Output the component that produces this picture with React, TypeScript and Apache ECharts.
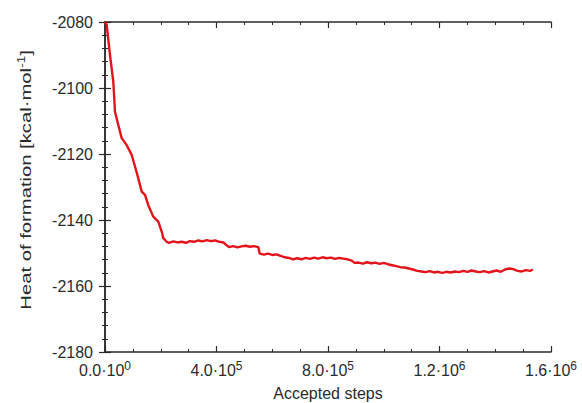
import React, { useEffect, useRef } from "react";
import * as echarts from "echarts";

// Accepted steps (x) and heat of formation in kcal/mol (y)
const steps: number[] = [
  0, 6100, 17900, 29800, 35900, 47700, 59900, 77800, 95800, 107600, 119500, 131700,
  143500, 155300, 173300, 191200, 203400, 209100, 221300, 230000, 245000, 260000,
  275000, 290000, 305000, 320000, 335000, 350000, 365000, 380000, 395000, 410000,
  425000, 435000, 445000, 460000, 475000, 490000, 505000, 520000, 535000, 550000,
  555000, 570000, 585000, 600000, 615000, 630000, 645000, 660000, 675000, 690000,
  705000, 720000, 735000, 750000, 765000, 780000, 795000, 810000, 825000, 840000,
  855000, 870000, 885000, 895000, 910000, 925000, 940000, 955000, 970000, 985000,
  1000000, 1015000, 1030000, 1045000, 1060000, 1075000, 1090000, 1105000, 1120000,
  1135000, 1150000, 1165000, 1180000, 1195000, 1210000, 1225000, 1240000, 1255000,
  1270000, 1285000, 1300000, 1315000, 1330000, 1345000, 1360000, 1375000, 1390000,
  1405000, 1420000, 1435000, 1450000, 1465000, 1480000, 1495000, 1510000, 1525000,
  1535000,
];
const heat: number[] = [
  -2080.0, -2080.9, -2090.0, -2098.1, -2107.2, -2111.2, -2115.2, -2117.3, -2120.3,
  -2123.8, -2127.4, -2131.4, -2132.4, -2135.5, -2139.0, -2140.5, -2143.5, -2145.5,
  -2146.6, -2146.9, -2146.5, -2146.8, -2146.6, -2146.9, -2146.4, -2146.6, -2146.2,
  -2146.5, -2146.1, -2146.4, -2146.2, -2146.6, -2146.8, -2147.6, -2148.2, -2147.9,
  -2148.3, -2148.0, -2147.8, -2148.1, -2147.9, -2148.2, -2150.2, -2150.5, -2150.2,
  -2150.6, -2150.4, -2150.9, -2151.3, -2151.5, -2151.9, -2151.6, -2151.9, -2151.5,
  -2151.8, -2151.4, -2151.7, -2151.3, -2151.6, -2151.4, -2151.8, -2151.5, -2151.7,
  -2151.9, -2152.3, -2153.0, -2152.9, -2153.2, -2152.8, -2153.1, -2152.9, -2153.3,
  -2153.0, -2153.4, -2153.7, -2154.0, -2154.3, -2154.4, -2154.7, -2155.0, -2155.4,
  -2155.6, -2155.8, -2155.5, -2155.9, -2155.7, -2156.0, -2155.7, -2155.9, -2155.6,
  -2155.8, -2155.4, -2155.7, -2155.3, -2155.6, -2155.8, -2155.5, -2155.9, -2155.6,
  -2155.3, -2155.7, -2155.0, -2154.7, -2154.9, -2155.4, -2155.6, -2155.2, -2155.4,
  -2155.0,
];

// Axis settings
const xMin = 0;
const xMax = 1600000;
const xInterval = 400000;
const yMin = -2180;
const yMax = -2080;
const yInterval = 20;
const xTitle = "Accepted steps";
const yTitleMain = "Heat of formation [kcal·mol";
const yTitleSup = "-1";

const FONT = "'Liberation Sans', Arial, Helvetica, sans-serif";
const AXIS_COLOR = "#2a2a2a";
const TEXT_COLOR = "#2b2b2b";

function sciLabel(v: number): string {
  const exp = v === 0 ? 0 : Math.floor(Math.log10(Math.abs(v)) + 1e-9);
  const mant = v / Math.pow(10, exp);
  return `${mant.toFixed(1)}·10{sup|${exp}}`;
}

export default function App() {
  const ref = useRef<HTMLDivElement>(null);

  useEffect(() => {
    if (!ref.current) return;
    const chart = echarts.init(ref.current, undefined, { renderer: "svg" });
    const data = steps.map((s, i) => [s, heat[i]]);

    const axisLine = { show: true, lineStyle: { color: AXIS_COLOR, width: 1.5 } };
    const axisTick = { show: true, inside: true, length: 6, lineStyle: { color: AXIS_COLOR, width: 1.2 } };
    const minorTickX = { show: true, splitNumber: 4, length: 3, lineStyle: { color: AXIS_COLOR, width: 1 } };
    const minorTickY = { show: true, splitNumber: 5, length: 3, lineStyle: { color: AXIS_COLOR, width: 1 } };

    chart.setOption({
      animation: false,
      backgroundColor: "#ffffff",
      grid: { left: 105, right: 31, top: 22, bottom: 51, containLabel: false, outerBoundsMode: "none" },
      xAxis: [
        {
          type: "value",
          position: "bottom",
          min: xMin,
          max: xMax,
          interval: xInterval,
          axisLine,
          axisTick,
          minorTick: minorTickX,
          splitLine: { show: false },
          name: xTitle,
          nameLocation: "middle",
          nameGap: 33,
          nameTextStyle: { fontFamily: FONT, fontSize: 16, color: TEXT_COLOR },
          axisLabel: {
            show: true,
            margin: 8,
            fontFamily: FONT,
            fontSize: 16,
            color: TEXT_COLOR,
            showMaxLabel: true,
            showMinLabel: true,
            formatter: (v: number) => sciLabel(v),
            rich: {
              sup: { fontFamily: FONT, fontSize: 12, color: TEXT_COLOR, verticalAlign: "top", padding: [0, 0, 9, 0] },
            },
          },
        },
        {
          type: "value",
          position: "top",
          min: xMin,
          max: xMax,
          interval: xInterval,
          axisLine,
          axisTick,
          minorTick: minorTickX,
          splitLine: { show: false },
          axisLabel: { show: false },
        },
      ],
      yAxis: [
        {
          type: "value",
          position: "left",
          min: yMin,
          max: yMax,
          interval: yInterval,
          axisLine,
          axisTick,
          minorTick: minorTickY,
          splitLine: { show: false },
          axisLabel: {
            show: true,
            margin: 12,
            fontFamily: FONT,
            fontSize: 16,
            color: TEXT_COLOR,
            formatter: (v: number) => String(v),
          },
        },
        {
          type: "value",
          position: "right",
          min: yMin,
          max: yMax,
          interval: yInterval,
          axisLine,
          axisTick,
          minorTick: minorTickY,
          splitLine: { show: false },
          axisLabel: { show: false },
        },
      ],
      graphic: [
        {
          type: "text",
          x: 26,
          y: 180,
          rotation: Math.PI / 2,
          scaleX: 1.35,
          style: {
            text: `${yTitleMain}{sup|${yTitleSup}}]`,
            fontFamily: FONT,
            fontSize: 15,
            fill: TEXT_COLOR,
            align: "center",
            verticalAlign: "middle",
            rich: {
              sup: { fontFamily: FONT, fontSize: 10, fill: TEXT_COLOR, verticalAlign: "top", padding: [0, 0, 8, 0] },
            },
          },
        },
      ],
      series: [
        {
          type: "line",
          xAxisIndex: 0,
          yAxisIndex: 0,
          data,
          showSymbol: false,
          symbol: "none",
          lineStyle: { color: "#e3141b", width: 2.4 },
          clip: true,
        },
      ],
    });

    return () => chart.dispose();
  }, []);

  return (
    <div
      ref={ref}
      style={{ position: "fixed", left: 0, top: 0, width: 582, height: 403, background: "#fff" }}
    />
  );
}
